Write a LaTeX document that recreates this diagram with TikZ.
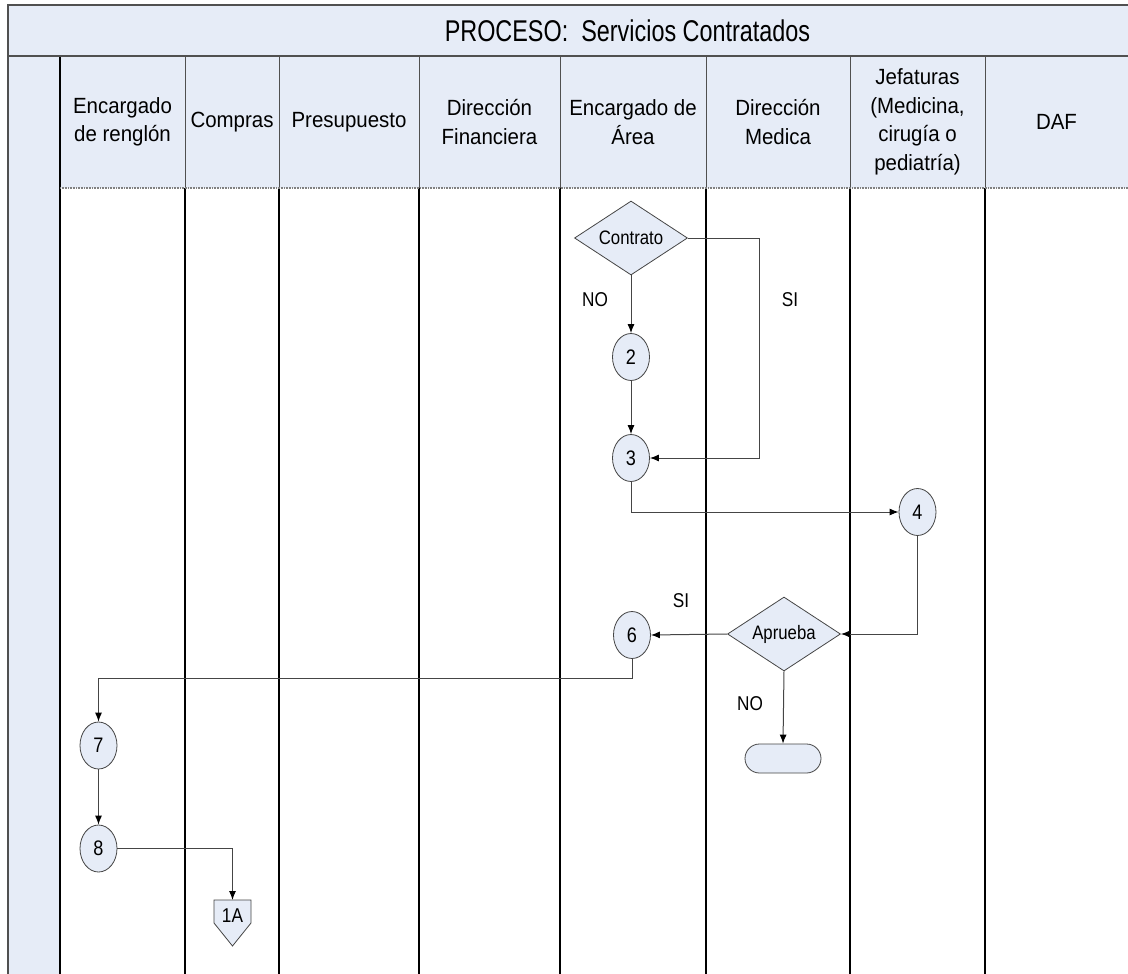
\documentclass[tikz,border=0pt]{standalone}
\usepackage{fontspec}
\setmainfont{Liberation Sans}[FakeStretch=0.86]
\newfontfamily\titlefont{Liberation Sans}[FakeStretch=0.78]
\newfontfamily\headfont{Liberation Sans}[FakeStretch=0.93]
\usetikzlibrary{shapes.geometric,arrows.meta,calc}

\definecolor{laneblue}{HTML}{E6ECF7}
\definecolor{edge}{HTML}{454545}
\definecolor{rule}{HTML}{505050}

\begin{document}
\begin{tikzpicture}[x=1pt,y=-1pt,
  flow/.style={draw=edge, line width=1pt},
  arr/.style={flow, -{Latex[length=9pt,width=7pt,color=black]}},
  stepcircle/.style={ellipse, draw=edge, fill=laneblue, line width=0.8pt,
    minimum width=37pt, minimum height=47pt, inner sep=0pt,
    font=\fontsize{21}{23}\selectfont},
  decision/.style={diamond, draw=edge, fill=laneblue, line width=0.8pt,
    minimum width=113pt, minimum height=74pt, aspect=1.53, inner sep=0pt,
    font=\fontsize{19.5}{21}\selectfont},
  endbox/.style={rectangle, rounded corners=14.5pt, draw=edge, fill=laneblue,
    line width=0.8pt, minimum width=76pt, minimum height=29pt, inner sep=0pt},
  lbl/.style={font=\fontsize{20}{22}\selectfont, inner sep=0pt},
  head/.style={align=center, inner sep=0pt, font=\headfont\fontsize{22}{28.5}\selectfont},
  laneline/.style={draw=black, line width=1.2pt},
  headline/.style={draw=rule, line width=1pt}
]
\useasboundingbox (0,0) rectangle (1128,974);

% backgrounds: title bar, header row and the left stripe
\fill[laneblue] (8,5) rectangle (1128,188);
\fill[laneblue] (8,188) rectangle (60,974);

% header separators and lane lines
\foreach \x in {185,279,419,560,706,850,985} {
  \draw[headline] (\x,56) -- (\x,188);
  \draw[laneline] (\x,188) -- (\x,974);
}
\draw[draw=black, line width=2pt] (60,56) -- (60,974);
\draw[draw=gray, line width=1.5pt, dash pattern=on 1pt off 0.6pt] (60,188) -- (1128,188);

% outer frame of the title bar and the left border
\draw[draw=rule, line width=2pt] (1128,5) -- (8,5) -- (8,974);
\draw[draw=rule, line width=2pt] (8,56) -- (1128,56);

% title
\node[inner sep=0pt, font=\titlefont\fontsize{30}{32}\selectfont] (title) at (627.5,30.5)
  {PROCESO:~ Servicios Contratados};

% lane headers
\node[head] (hA) at (122.5,122) {Encargado\\de renglón};
\node[head] (hB) at (232,122) {Compras};
\node[head] (hC) at (349,122) {Presupuesto};
\node[head] (hD) at (489.5,122) {Dirección\\Financiera};
\node[head] (hE) at (633,122) {Encargado de\\Área};
\node[head] (hF) at (778,122) {Dirección\\Medica};
\node[head] (hG) at (917.5,122) {Jefaturas\\(Medicina,\\cirugía o\\pediatría)};
\node[head] (hH) at (1056.5,122) {DAF};

% flow shapes
\node[decision] (dC) at (631,238) {Contrato};
\node[stepcircle] (c2) at (631,357) {2};
\node[stepcircle] (c3) at (631,458) {3};
\node[stepcircle] (c4) at (917.5,512) {4};
\node[decision] (dA) at (784,634) {Aprueba};
\node[stepcircle] (c6) at (632,635) {6};
\node[endbox] (term) at (783,758.5) {};
\node[stepcircle] (c7) at (98.5,745.5) {7};
\node[stepcircle] (c8) at (98.5,848.5) {8};

% off-page connector
\filldraw[draw=edge, fill=laneblue, line width=0.8pt]
  (214,900) -- (251,900) -- (251,923) -- (232.5,946) -- (214,923) -- cycle;
\node[lbl] (oc) at (232.5,916) {1A};
\coordinate (octop) at (232.5,900);

% branch labels
\node[lbl] (noA) at (595,300) {NO};
\node[lbl] (siA) at (790,300) {SI};
\node[lbl] (siB) at (681,601) {SI};
\node[lbl] (noB) at (750,704) {NO};

% connectors
\draw[arr] (dC.south) -- (c2.north);
\draw[arr] (dC.east) -- ++(72,0) |- (c3.east);
\draw[arr] (c2.south) -- (c3.north);
\draw[arr] (c3.south) |- (c4.west);
\draw[arr] (c4.south) |- (dA.east);
\draw[arr] (dA.west) -- (c6.east);
\draw[arr] (dA.south) -- (term.north);
\draw[arr] (c6.south) -- ++(0,20) -| (c7.north);
\draw[arr] (c7.south) -- (c8.north);
\draw[arr] (c8.east) -| (octop);
\end{tikzpicture}
\end{document}
